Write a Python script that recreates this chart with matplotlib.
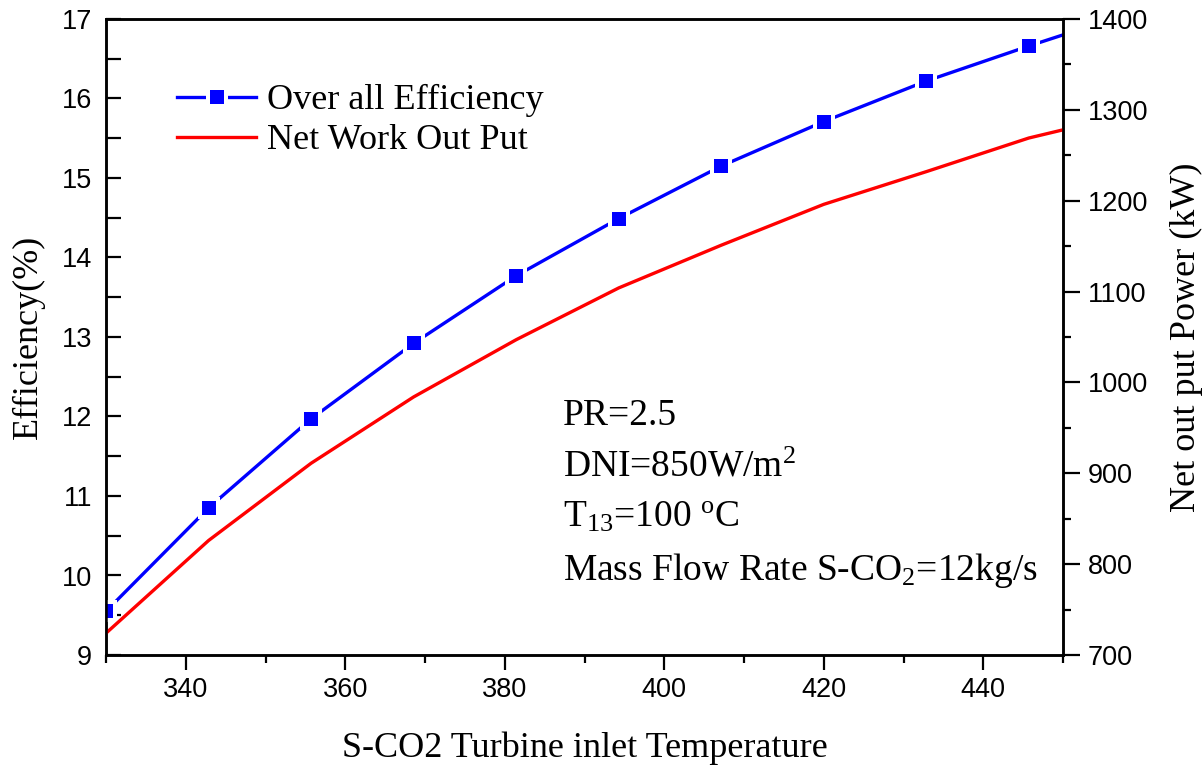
import matplotlib
matplotlib.use("Agg")
import matplotlib.pyplot as plt
from matplotlib.ticker import MultipleLocator

# values
temperature = [330, 342.86, 355.71, 368.57, 381.43, 394.29, 407.14, 420, 432.86, 445.71, 450]
efficiency = [9.55, 10.85, 11.97, 12.92, 13.77, 14.49, 15.15, 15.71, 16.22, 16.66, 16.80]
net_power = [724, 826, 911, 984, 1047, 1104, 1151, 1196, 1232, 1269, 1278]

label_eff = "Over all Efficiency"
label_power = "Net Work Out Put"
notes = [
    "PR=2.5",
    r"DNI=850W/m$^{2}$",
    r"T$_{13}$=100 $^{\mathrm{o}}$C",
    r"Mass Flow Rate S-CO$_{2}$=12kg/s",
]

plt.rcParams["font.family"] = ["Liberation Serif", "DejaVu Serif"]
plt.rcParams["mathtext.fontset"] = "custom"
plt.rcParams["mathtext.rm"] = "Liberation Serif"
plt.rcParams["mathtext.it"] = "Liberation Serif:italic"
plt.rcParams["mathtext.bf"] = "Liberation Serif:bold"

blue = "#0000FF"
red = "#FF0000"
tick_font = {"family": "Liberation Sans", "size": 19.5}

fig = plt.figure(figsize=(12.03, 7.65), dpi=100)
ax = fig.add_axes([106 / 1203, 1 - 655 / 765, 957 / 1203, 636 / 765])
ax2 = ax.twinx()

# efficiency line with white halo behind markers (Origin style gaps)
line_eff, = ax.plot(temperature, efficiency, color=blue, lw=2.4, zorder=2)
halo, = ax.plot(temperature[:-1], efficiency[:-1], "s", color="white", ms=15.5, mew=0, zorder=3)
marks, = ax.plot(temperature[:-1], efficiency[:-1], "s", color=blue, ms=10, mew=0, zorder=4)

line_pow, = ax2.plot(temperature, net_power, color=red, lw=2.4)

ax.set_xlim(330, 450)
ax.set_ylim(9, 17)
ax2.set_ylim(700, 1400)

ax.xaxis.set_major_locator(MultipleLocator(20))
ax.xaxis.set_minor_locator(MultipleLocator(10))
ax.yaxis.set_major_locator(MultipleLocator(1))
ax.yaxis.set_minor_locator(MultipleLocator(0.5))
ax2.yaxis.set_major_locator(MultipleLocator(100))
ax2.yaxis.set_minor_locator(MultipleLocator(50))
ax.set_xticks([340, 360, 380, 400, 420, 440])

for a in (ax, ax2):
    for s in a.spines.values():
        s.set_linewidth(1.8)

ax.tick_params(axis="x", which="major", direction="out", length=11, width=1.6, pad=5, top=False)
ax.tick_params(axis="x", which="minor", direction="out", length=6, width=1.6, top=False)
ax.tick_params(axis="y", which="both", direction="in", length=11, width=1.6, pad=10, right=False)
ax2.tick_params(axis="y", which="major", direction="out", length=12, width=1.6, pad=6)
ax2.tick_params(axis="y", which="minor", direction="out", length=6, width=1.6)

for lab in ax.get_xticklabels() + ax.get_yticklabels() + ax2.get_yticklabels():
    lab.set_fontfamily(tick_font["family"])
    lab.set_fontsize(tick_font["size"])

ax.set_xlabel("S-CO2 Turbine inlet Temperature", fontsize=26)
ax.xaxis.set_label_coords(0.5, -0.12)
ax.set_ylabel("Efficiency(%)", fontsize=26)
ax.yaxis.set_label_coords(-0.064, 0.5)
ax2.set_ylabel("Net out put Power (kW)", fontsize=26)
ax2.yaxis.set_label_coords(1.112, 0.5)

leg = ax2.legend([(line_eff, halo, marks), line_pow], [label_eff, label_power],
                 loc="upper left", bbox_to_anchor=(0.074, 0.898), frameon=False,
                 fontsize=26, handlelength=2.2, handletextpad=0.3,
                 labelspacing=0.19, borderpad=0, borderaxespad=0)

baselines = [0.3616, 0.2803, 0.2017, 0.1179]
for txt, yb in zip(notes, baselines):
    ax.text(0.4775, yb, txt, transform=ax.transAxes, fontsize=27, va="baseline", ha="left")

fig.savefig("out.png", dpi=100)
